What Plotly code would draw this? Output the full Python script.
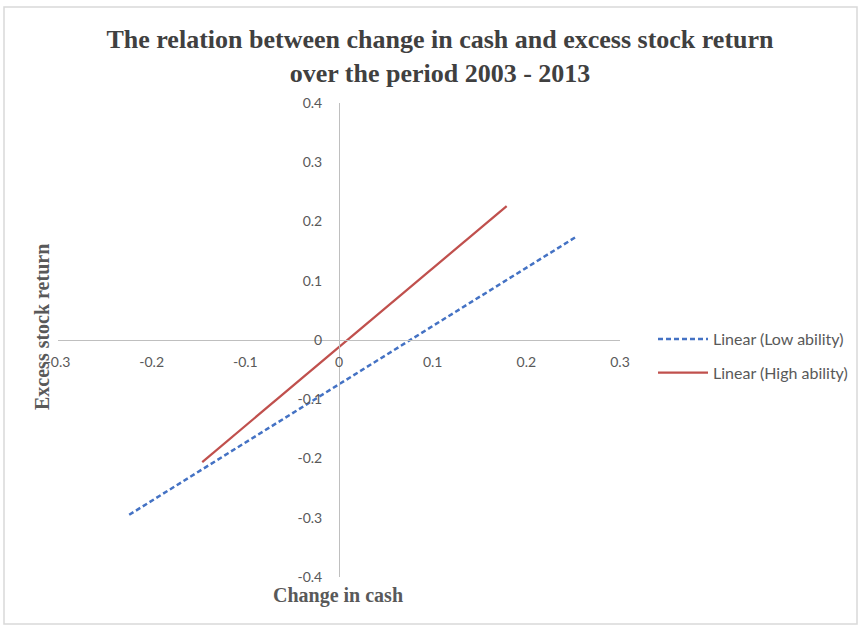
import plotly.graph_objects as go

# Fitted trend lines (endpoints of each linear fit)
low_x = [-0.224, 0.253]
low_y = [-0.295, 0.174]
high_x = [-0.146, 0.179]
high_y = [-0.206, 0.226]

x_ticks = [-0.3, -0.2, -0.1, 0, 0.1, 0.2, 0.3]
x_tick_text = ["-0.3", "-0.2", "-0.1", "0", "0.1", "0.2", "0.3"]
y_ticks = [-0.4, -0.3, -0.2, -0.1, 0, 0.1, 0.2, 0.3, 0.4]
y_tick_text = ["-0.4", "-0.3", "-0.2", "-0.1", "0", "0.1", "0.2", "0.3", "0.4"]

title_text = ("<b>The relation between change in cash and excess stock return</b><br>"
              "<b>over the period 2003 - 2013</b>")

W, H = 861, 627
ML, MR, MT, MB = 58, 241, 103, 50
PW, PH = W - ML - MR, H - MT - MB

serif = "Liberation Serif, Times New Roman, serif"
sans = "Lato, Open Sans, sans-serif"
grey_text = "#595959"
axis_grey = "#BFBFBF"

fig = go.Figure()
fig.add_trace(go.Scatter(
    x=low_x, y=low_y, mode="lines", name="Linear (Low ability)",
    line=dict(color="#4472C4", width=2.5, dash="5px,3px"), legendgroup="a",
))
fig.add_trace(go.Scatter(
    x=high_x, y=high_y, mode="lines", name="Linear (High ability)",
    line=dict(color="#C0504D", width=2.25), legendgroup="b",
))

fig.update_layout(
    width=W, height=H,
    margin=dict(l=ML, r=MR, t=MT, b=MB, autoexpand=False),
    paper_bgcolor="white", plot_bgcolor="white",
    title=dict(text=title_text, x=440 / W, xref="container", xanchor="center",
               y=1 - 48 / H, yanchor="top",
               font=dict(family=serif, size=26, color="#404040")),
    showlegend=True,
    legend=dict(x=(653 - ML) / PW, xanchor="left",
                y=(H - MB - 356) / PH, yanchor="middle",
                font=dict(family=sans, size=16, color=grey_text),
                itemwidth=50, tracegroupgap=10, bgcolor="rgba(0,0,0,0)"),
    xaxis=dict(range=[-0.3, 0.3], tickvals=x_ticks, ticktext=x_tick_text,
               anchor="free", position=0.5, showline=True, linecolor=axis_grey,
               linewidth=1, showgrid=False, zeroline=False,
               ticks="outside", ticklen=9, tickcolor="rgba(0,0,0,0)",
               tickfont=dict(family=sans, size=14, color=grey_text)),
    yaxis=dict(range=[-0.4, 0.4], tickvals=y_ticks, ticktext=y_tick_text,
               anchor="free", position=0.5, showline=True, linecolor=axis_grey,
               linewidth=1, showgrid=False, zeroline=False,
               ticks="outside", ticklen=14, tickcolor="rgba(0,0,0,0)",
               tickfont=dict(family=sans, size=14, color=grey_text)),
    annotations=[
        dict(text="<b>Change in cash</b>", xref="paper", yref="paper",
             x=(338 - ML) / PW, y=-(595 - (H - MB)) / PH,
             xanchor="center", yanchor="middle", showarrow=False,
             font=dict(family=serif, size=20, color=grey_text)),
        dict(text="<b>Excess stock return</b>", xref="paper", yref="paper",
             x=-(ML - 42) / PW, y=(H - MB - 327) / PH,
             xanchor="center", yanchor="middle", showarrow=False, textangle=-90,
             font=dict(family=serif, size=20, color=grey_text)),
    ],
    shapes=[
        dict(type="rect", xref="paper", yref="paper",
             x0=-(ML - 4) / PW, x1=1 + (MR - 4) / PW,
             y0=-(MB - 3) / PH, y1=1 + (MT - 7) / PH,
             line=dict(color="#D9D9D9", width=1.5), layer="below"),
    ],
)

fig.write_html("out.html")
